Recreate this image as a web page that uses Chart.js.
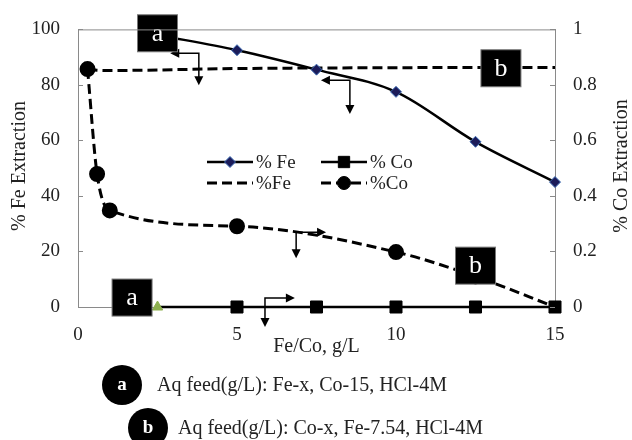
<!DOCTYPE html>
<html>
<head>
<meta charset="utf-8">
<script src="https://cdn.jsdelivr.net/npm/chart.js@4.4.0/dist/chart.umd.min.js"></script>
<style>
  body { margin: 0; background: #fff; }
  canvas { display: block; }
</style>
</head>
<body>
<canvas id="chart" width="632" height="440"></canvas>
<script>
// Fe/Co concentration, g/L (x axis)
const feSolidX = [2.5, 5, 7.5, 10, 12.5, 15];
const feSolidY = [98, 92.5, 85.5, 77.5, 59.5, 45];          // % Fe (left axis)
const coSolidX = [2.5, 5, 7.5, 10, 12.5, 15];
const coSolidY = [0, 0, 0, 0, 0, 0];                         // % Co (right axis)

const feDashX = [0.3, 0.6, 1, 5, 10, 12.5, 15];
const feDashY = [85.7, 85.3, 85.2, 85.9, 86.2, 86.3, 86.3];  // %Fe (left axis)
const coDashX = [0.3, 0.6, 1, 5, 10, 12.5, 15];
const coDashY = [0.857, 0.479, 0.348, 0.291, 0.198, 0.11, 0]; // %Co (right axis)

const xTicks = [0, 5, 10, 15];
const leftTicks = [0, 20, 40, 60, 80, 100];
const rightTicks = [0, 0.2, 0.4, 0.6, 0.8, 1];

// black label boxes, placed in data units (left axis)
const boxLabels = ['a', 'b', 'a', 'b'];
const boxX = [2.5, 13.3, 1.7, 12.5];
const boxY = [98.6, 86, 3.4, 14.9];

// bent arrows: corner, horizontal tip (x), vertical tip (y)
const arrowCornerX = [3.8, 8.55, 6.86, 5.88];
const arrowCornerY = [91.4, 81.7, 26.9, 3.2];
const arrowTipX = [2.9, 7.64, 7.8, 6.82];
const arrowTipY = [79.9, 69.5, 17.6, -7.2];

const noteLabels = ['a', 'b'];
const noteTexts = ['Aq feed(g/L): Fe-x, Co-15, HCl-4M', 'Aq feed(g/L): Co-x, Fe-7.54, HCl-4M'];

const FONT = '"Liberation Serif", "Times New Roman", serif';
const TEXT = '#222';
const AXIS = '#8a8a8a';

const toPoints = (xs, ys) => xs.map((x, i) => ({ x: x, y: ys[i] }));

function arrowHead(ctx, x, y, dir) {
    const L = 9, W = 4.5;
    ctx.beginPath();
    if (dir === 'left') { ctx.moveTo(x, y); ctx.lineTo(x + L, y - W); ctx.lineTo(x + L, y + W); }
    if (dir === 'right') { ctx.moveTo(x, y); ctx.lineTo(x - L, y - W); ctx.lineTo(x - L, y + W); }
    if (dir === 'down') { ctx.moveTo(x, y); ctx.lineTo(x - W, y - L); ctx.lineTo(x + W, y - L); }
    ctx.closePath();
    ctx.fill();
}

const overlay = {
    id: 'overlay',
    beforeDraw(chart) {
        const ctx = chart.ctx;
        ctx.save();
        ctx.fillStyle = '#fff';
        ctx.fillRect(0, 0, chart.width, chart.height);
        ctx.restore();
    },
    afterDatasetsDraw(chart) {
        const ctx = chart.ctx;
        const xs = chart.scales.x, ys = chart.scales.y;
        ctx.save();

        // arrows
        ctx.strokeStyle = '#000';
        ctx.fillStyle = '#000';
        ctx.lineWidth = 1.5;
        arrowCornerX.forEach((cx, i) => {
            const px = xs.getPixelForValue(cx), py = ys.getPixelForValue(arrowCornerY[i]);
            const tx = xs.getPixelForValue(arrowTipX[i]), ty = ys.getPixelForValue(arrowTipY[i]);
            const dir = tx < px ? 'left' : 'right';
            ctx.beginPath();
            ctx.moveTo(tx + (dir === 'left' ? 6 : -6), py);
            ctx.lineTo(px, py);
            ctx.lineTo(px, ty - 6);
            ctx.stroke();
            arrowHead(ctx, tx, py, dir);
            arrowHead(ctx, px, ty, 'down');
        });

        // label boxes
        boxLabels.forEach((lab, i) => {
            const px = xs.getPixelForValue(boxX[i]), py = ys.getPixelForValue(boxY[i]);
            ctx.fillStyle = '#000';
            ctx.fillRect(px - 20, py - 18.5, 40, 37);
            ctx.strokeStyle = '#777';
            ctx.lineWidth = 1;
            ctx.strokeRect(px - 20, py - 18.5, 40, 37);
            ctx.fillStyle = '#fff';
            ctx.font = '26px ' + FONT;
            ctx.textAlign = 'center';
            ctx.textBaseline = 'middle';
            ctx.fillText(lab, px, py + 1);
        });
        ctx.restore();
    },
    afterDraw(chart) {
        const ctx = chart.ctx;
        const area = chart.chartArea;
        ctx.save();

        // top frame line and inward tick marks
        ctx.strokeStyle = AXIS;
        ctx.lineWidth = 1;
        ctx.beginPath();
        ctx.moveTo(area.left, area.top + 0.5);
        ctx.lineTo(area.right, area.top + 0.5);
        leftTicks.forEach(v => {
            const py = Math.round(chart.scales.y.getPixelForValue(v)) + 0.5;
            ctx.moveTo(area.left, py); ctx.lineTo(area.left + 5, py);
        });
        rightTicks.forEach(v => {
            const py = Math.round(chart.scales.y1.getPixelForValue(v)) + 0.5;
            ctx.moveTo(area.right - 5, py); ctx.lineTo(area.right, py);
        });
        ctx.stroke();

        // axis titles
        ctx.fillStyle = TEXT;
        ctx.font = '20px ' + FONT;
        ctx.textAlign = 'center';
        ctx.textBaseline = 'middle';
        [['% Fe Extraction', 20], ['% Co Extraction', 622]].forEach(([t, x]) => {
            ctx.save();
            ctx.translate(x, 166);
            ctx.rotate(-Math.PI / 2);
            ctx.fillText(t, 0, 0);
            ctx.restore();
        });
        ctx.fillText('Fe/Co, g/L', (area.left + area.right) / 2, 347);

        // legend, 2 x 2
        const slots = [[207, 162], [321, 162], [207, 183], [321, 183]];
        chart.data.datasets.forEach((ds, i) => {
            const [lx, ly] = slots[i];
            ctx.strokeStyle = ds.borderColor;
            ctx.lineWidth = ds.borderWidth;
            ctx.setLineDash(ds.borderDash || []);
            ctx.beginPath();
            ctx.moveTo(lx, ly); ctx.lineTo(lx + 46, ly);
            ctx.stroke();
            ctx.setLineDash([]);
            if (ds.legendStyle) {
                ctx.fillStyle = ds.legendFill;
                ctx.strokeStyle = ds.legendBorder;
                ctx.lineWidth = 1;
                Chart.helpers.drawPoint(ctx, { pointStyle: ds.legendStyle, radius: ds.legendRadius, rotation: 0, borderWidth: 1 }, lx + 23, ly);
            }
            ctx.fillStyle = TEXT;
            ctx.font = '19px ' + FONT;
            ctx.textAlign = 'left';
            ctx.textBaseline = 'middle';
            ctx.fillText(ds.label, lx + 49, ly + 1);
        });

        // footnotes
        const noteCircles = [[122, 385], [148, 428]];
        const noteTextX = [157, 178];
        noteLabels.forEach((lab, i) => {
            const [cx, cy] = noteCircles[i];
            ctx.fillStyle = '#000';
            ctx.beginPath();
            ctx.arc(cx, cy, 20, 0, Math.PI * 2);
            ctx.fill();
            ctx.fillStyle = '#fff';
            ctx.font = 'bold 19px ' + FONT;
            ctx.textAlign = 'center';
            ctx.textBaseline = 'middle';
            ctx.fillText(lab, cx, cy);
            ctx.fillStyle = TEXT;
            ctx.font = '20px ' + FONT;
            ctx.textAlign = 'left';
            ctx.fillText(noteTexts[i], noteTextX[i], cy + 1);
        });
        ctx.restore();
    }
};

Chart.defaults.font.family = FONT;
Chart.defaults.font.size = 19;
Chart.defaults.color = TEXT;

// first Co point carries a green triangle, the rest are black squares
const firstIs = (a, b) => c => c.dataIndex === 0 ? a : b;

new Chart(document.getElementById('chart').getContext('2d'), {
    type: 'line',
    data: {
        datasets: [{
            label: '% Fe',
            data: toPoints(feSolidX, feSolidY),
            yAxisID: 'y',
            clip: false,
            borderColor: '#000',
            borderWidth: 2.5,
            cubicInterpolationMode: 'monotone',
            pointStyle: 'rectRot',
            pointRadius: 5.5,
            pointBackgroundColor: '#1c1c5a',
            pointBorderColor: '#3d6db5',
            pointBorderWidth: 1,
            legendStyle: 'rectRot', legendRadius: 5.5, legendFill: '#1c1c5a', legendBorder: '#3d6db5'
        }, {
            label: '% Co',
            data: toPoints(coSolidX, coSolidY),
            yAxisID: 'y1',
            order: -1,   // squares sit on top of the dashed %Co end point
            clip: false,
            borderColor: '#000',
            borderWidth: 2.5,
            pointStyle: firstIs('triangle', 'rect'),
            pointRadius: firstIs(6, 8.5),
            pointBackgroundColor: firstIs('#8db04f', '#000'),
            pointBorderColor: firstIs('#8db04f', '#000'),
            pointBorderWidth: 1,
            legendStyle: 'rect', legendRadius: 8, legendFill: '#000', legendBorder: '#000'
        }, {
            label: '%Fe',
            data: toPoints(feDashX, feDashY),
            yAxisID: 'y',
            clip: false,
            borderColor: '#000',
            borderWidth: 3,
            borderDash: [10, 5],
            cubicInterpolationMode: 'monotone',
            pointRadius: 0
        }, {
            label: '%Co',
            data: toPoints(coDashX, coDashY),
            yAxisID: 'y1',
            clip: false,
            borderColor: '#000',
            borderWidth: 3,
            borderDash: [10, 5],
            cubicInterpolationMode: 'monotone',
            pointStyle: firstIs('circle', 'circle'),
            pointRadius: c => c.dataIndex === coDashX.length - 1 ? 0 : 6.5,
            pointBackgroundColor: '#000',
            pointBorderColor: '#000',
            legendStyle: 'circle', legendRadius: 6.5, legendFill: '#000', legendBorder: '#000'
        }]
    },
    options: {
        responsive: false,
        animation: false,
        layout: { padding: { top: 28, left: 0, right: 0, bottom: 0 } },
        plugins: { legend: { display: false }, tooltip: { enabled: false } },
        scales: {
            x: {
                type: 'linear',
                min: 0, max: 15,
                afterBuildTicks: s => { s.ticks = xTicks.map(v => ({ value: v })); },
                afterFit: s => { s.height = 133; },
                grid: { display: false, drawTicks: false },
                border: { display: true, color: AXIS, width: 1 },
                ticks: { padding: 17, callback: v => String(v) }
            },
            y: {
                position: 'left',
                min: 0, max: 100,
                afterBuildTicks: s => { s.ticks = leftTicks.map(v => ({ value: v })); },
                afterFit: s => { s.width = 78; },
                grid: { display: false, drawTicks: false },
                border: { display: true, color: AXIS, width: 1 },
                ticks: { padding: 18, callback: v => String(v) }
            },
            y1: {
                position: 'right',
                min: 0, max: 1,
                afterBuildTicks: s => { s.ticks = rightTicks.map(v => ({ value: v })); },
                afterFit: s => { s.width = 77; },
                grid: { display: false, drawTicks: false },
                border: { display: true, color: AXIS, width: 1 },
                ticks: { padding: 18, callback: v => String(v) }
            }
        }
    },
    plugins: [overlay]
});
</script>
</body>
</html>
